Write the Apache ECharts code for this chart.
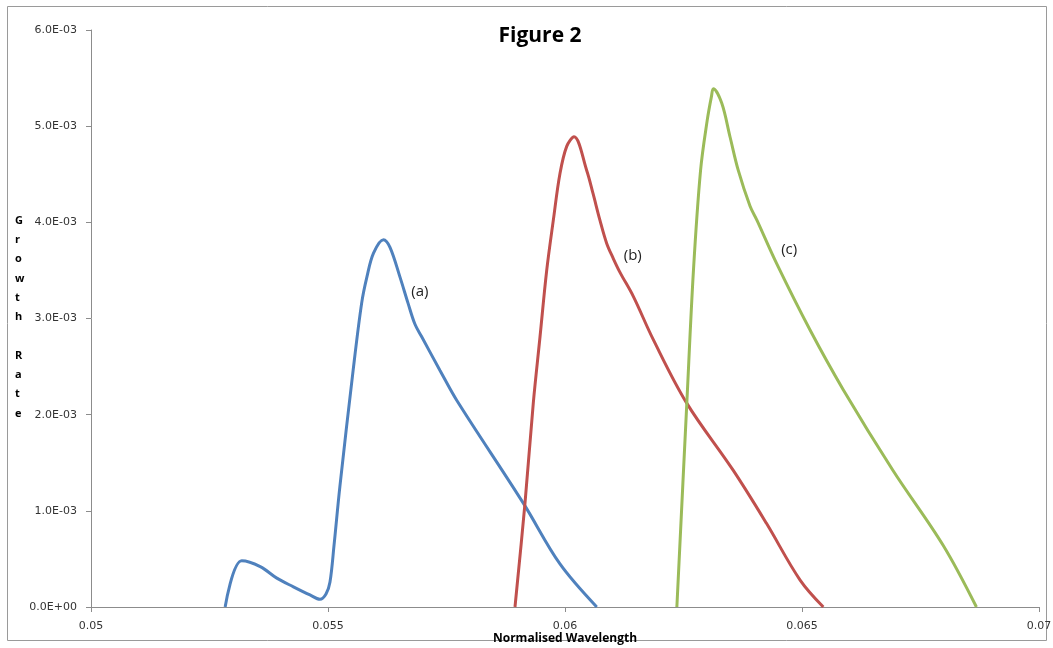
<!DOCTYPE html>
<html>
<head>
<meta charset="utf-8">
<title>Figure 2</title>
<script src="https://cdn.jsdelivr.net/npm/echarts@6/dist/echarts.min.js"></script>
<style>
  html, body { margin: 0; padding: 0; background: #ffffff; }
  #chart { width: 1053px; height: 648px; }
</style>
</head>
<body>
<div id="chart"></div>
<script>
// Normalised wavelength / growth rate pairs for each case
const curveA = [
  [0.05283, 0.0], [0.05318, 0.00048], [0.05357, 0.00042], [0.05392, 0.00030],
  [0.05427, 0.00021], [0.05462, 0.000125], [0.05483, 0.00008], [0.054958, 0.000135],
  [0.055042, 0.00026], [0.055127, 0.00064], [0.05525, 0.00125], [0.05553, 0.00246],
  [0.05571, 0.00316], [0.05582, 0.00343], [0.05596, 0.00368], [0.05617, 0.00382],
  [0.056308, 0.00374], [0.056519, 0.00343], [0.056688, 0.00316], [0.056835, 0.00294],
  [0.056977, 0.00281], [0.057363, 0.00246], [0.057715, 0.00215],
  [0.05912, 0.00108], [0.05989, 0.00045], [0.06067, 0.0]
];
const curveB = [
  [0.058945, 0.0], [0.059156, 0.00108], [0.059331, 0.00212], [0.059473, 0.00281],
  [0.059614, 0.00350], [0.059753, 0.00402], [0.059895, 0.00451], [0.060036, 0.00479],
  [0.06019, 0.00489], [0.060458, 0.00454], [0.060591, 0.00430],
  [0.060738, 0.00402], [0.06088, 0.00378], [0.061013, 0.00363], [0.06116, 0.00348],
  [0.061441, 0.00323], [0.061863, 0.00278], [0.062568, 0.00212], [0.06355, 0.00142],
  [0.06425, 0.00087], [0.06496, 0.00028], [0.06545, 0.0]
];
const curveC = [
  [0.06236, 0.0], [0.06257, 0.00212], [0.06271, 0.00350], [0.06286, 0.00454],
  [0.06300, 0.00506], [0.06309, 0.00531], [0.06313, 0.00539], [0.063306, 0.00524],
  [0.063481, 0.00489], [0.063656, 0.00454], [0.063903, 0.00417], [0.064051, 0.00402],
  [0.064466, 0.00357], [0.06517, 0.00288], [0.06587, 0.00226], [0.06692, 0.00142],
  [0.06798, 0.00064], [0.06868, 0.0]
];
const curveNames = ['(a)', '(b)', '(c)'];
const curveLabelAt = [[0.05694, 0.00328], [0.06143, 0.00365], [0.06473, 0.00371]];
const xTicks = [0.05, 0.055, 0.06, 0.065, 0.07];
const yTicks = [0, 0.001, 0.002, 0.003, 0.004, 0.005, 0.006];

const colors = ['#4F81BD', '#C0504D', '#9BBB59'];
const curves = [curveA, curveB, curveC];

function expLabel(v) {
  // 0.004 -> "4.0E-03"
  const s = Number(v).toExponential(1);
  const parts = s.split('e');
  const exp = parseInt(parts[1], 10);
  const sign = exp < 0 ? '-' : '+';
  const mag = String(Math.abs(exp)).padStart(2, '0');
  return parts[0] + 'E' + sign + mag;
}

const chart = echarts.init(document.getElementById('chart'), null, { renderer: 'canvas' });

const series = curves.map((data, i) => ({
  name: curveNames[i],
  type: 'line',
  data: data,
  smooth: 0.35,
  showSymbol: false,
  symbol: 'none',
  lineStyle: { color: colors[i], width: 3 },
  itemStyle: { color: colors[i] },
  emphasis: { disabled: true },
  markPoint: {
    symbol: 'circle',
    symbolSize: 0,
    silent: true,
    data: [{
      coord: curveLabelAt[i],
      label: {
        show: true,
        position: 'inside',
        formatter: curveNames[i],
        color: '#222',
        fontFamily: 'Open Sans',
        fontSize: 15
      }
    }]
  }
}));

chart.setOption({
  animation: false,
  backgroundColor: '#ffffff',
  title: {
    text: 'Figure 2',
    left: 535,
    top: 21,
    textAlign: 'center',
    textStyle: { fontFamily: 'Open Sans', fontWeight: 'bold', fontSize: 21, color: '#000' }
  },
  grid: { left: 91, right: 14, top: 30, bottom: 41, containLabel: false, outerBoundsMode: 'none' },
  xAxis: {
    type: 'value',
    min: xTicks[0],
    max: xTicks[xTicks.length - 1],
    interval: 0.005,
    name: 'Normalised Wavelength',
    nameLocation: 'middle',
    nameGap: 26,
    nameMoveOverlap: false,
    nameTextStyle: { fontFamily: 'Open Sans', fontWeight: 'bold', fontSize: 12, color: '#000' },
    axisLine: { lineStyle: { color: '#8c8c8c', width: 1 } },
    axisTick: { show: true, length: 5, lineStyle: { color: '#8c8c8c' } },
    axisLabel: {
      margin: 14,
      fontFamily: 'DejaVu Sans',
      fontSize: 11,
      color: '#333',
      formatter: v => String(parseFloat(v.toFixed(3)))
    },
    splitLine: { show: false }
  },
  yAxis: {
    type: 'value',
    min: yTicks[0],
    max: yTicks[yTicks.length - 1],
    interval: 0.001,
    axisLine: { show: true, lineStyle: { color: '#8c8c8c', width: 1 } },
    axisTick: { show: true, length: 5, lineStyle: { color: '#8c8c8c' } },
    axisLabel: {
      margin: 14,
      fontFamily: 'DejaVu Sans',
      fontSize: 11,
      color: '#333',
      formatter: expLabel
    },
    splitLine: { show: false }
  },
  graphic: [
    {
      type: 'rect',
      shape: { x: 7.5, y: 6.5, width: 1039, height: 634 },
      style: { fill: 'none', stroke: '#9a9a9a', lineWidth: 1 },
      silent: true,
      z: -1
    },
    {
      type: 'text',
      left: 15,
      top: 211,
      style: {
        text: 'G\nr\no\nw\nt\nh\n\nR\na\nt\ne',
        fontFamily: 'Open Sans',
        fontWeight: 'bold',
        fontSize: 11,
        lineHeight: 19.3,
        fill: '#000',
        align: 'center'
      }
    }
  ],
  series: series
});
</script>
</body>
</html>
